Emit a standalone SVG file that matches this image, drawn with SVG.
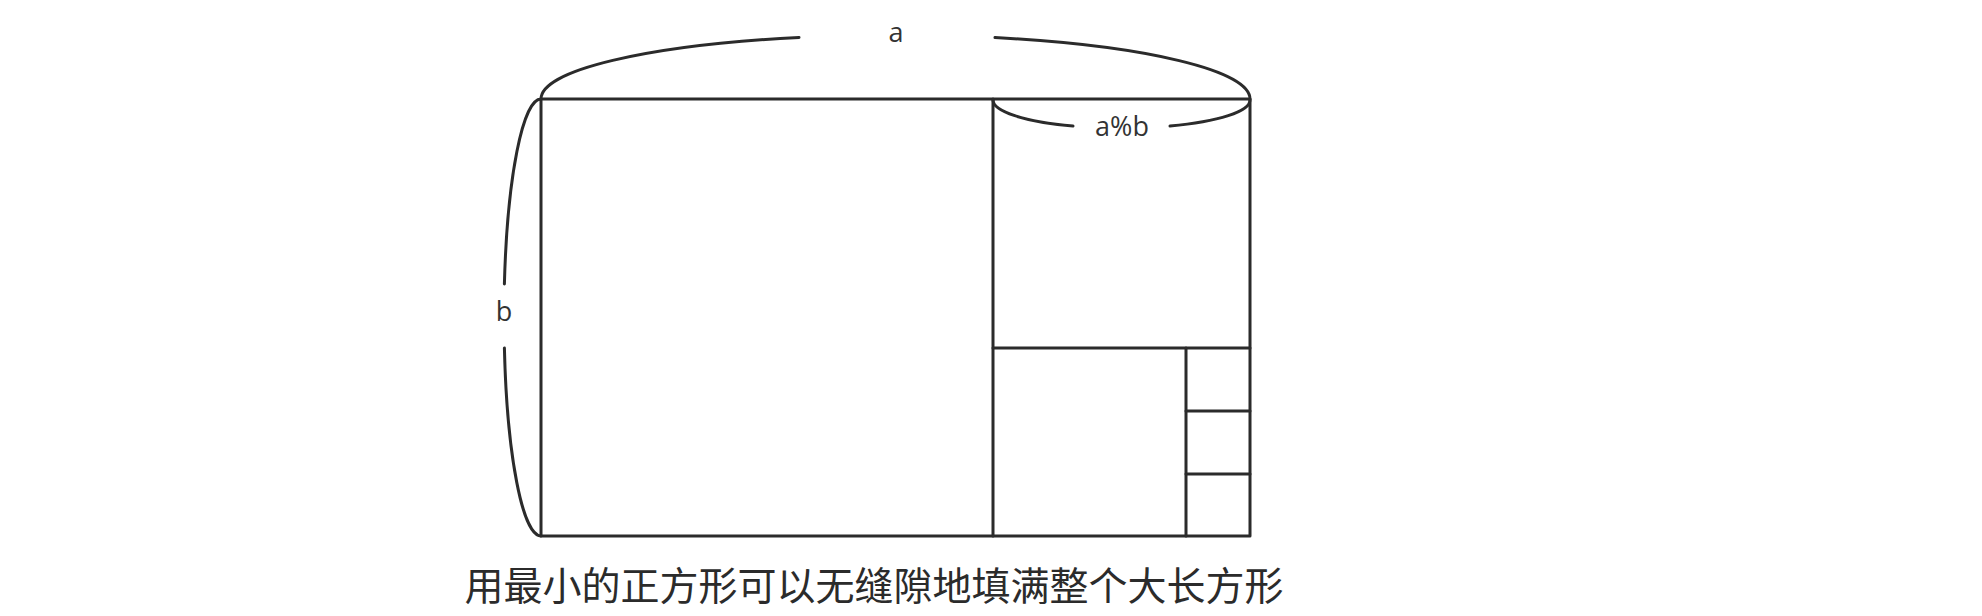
<svg xmlns="http://www.w3.org/2000/svg" width="1982" height="616" viewBox="0 0 1982 616">
<style>
.ln{fill:none;stroke:#2b2b2b;stroke-width:3;stroke-linecap:round;stroke-linejoin:round}
.lbl{font-family:"Open Sans","Noto Sans",sans-serif;font-size:27px;fill:#333;text-anchor:middle}
.cap{font-family:"Noto Sans CJK SC",sans-serif;font-size:39px;font-weight:400;fill:#2b2b2b;text-anchor:middle}
</style>
<rect width="1982" height="616" fill="#ffffff"/>
<g id="big-rectangle">
<rect class="ln" x="541" y="99" width="709" height="437"/>
</g>
<g id="squares">
<line class="ln" x1="993" y1="99" x2="993" y2="536"/>
<line class="ln" x1="993" y1="348" x2="1250" y2="348"/>
<line class="ln" x1="1186" y1="348" x2="1186" y2="536"/>
<line class="ln" x1="1186" y1="411" x2="1250" y2="411"/>
<line class="ln" x1="1186" y1="474" x2="1250" y2="474"/>
</g>
<g id="brace-a">
<path class="ln" d="M541,99 A354.5,64 0 0 1 799,37.4"/>
<path class="ln" d="M995,37.6 A354.5,64 0 0 1 1250,99"/>
<text class="lbl" x="896" y="42">a</text>
</g>
<g id="brace-amodb">
<path class="ln" d="M993,100 A128.5,28 0 0 0 1073,126"/>
<path class="ln" d="M1170,126 A128.5,28 0 0 0 1250,100"/>
<text class="lbl" x="1122" y="136">a%b</text>
</g>
<g id="brace-b">
<path class="ln" d="M541,99 A37,218.5 0 0 0 504.4,284"/>
<path class="ln" d="M504.4,348 A37,218.5 0 0 0 541,536"/>
<text class="lbl" x="504" y="321">b</text>
</g>
<g id="caption">
<text class="cap" x="874" y="600">用最小的正方形可以无缝隙地填满整个大长方形</text>
</g>
</svg>
